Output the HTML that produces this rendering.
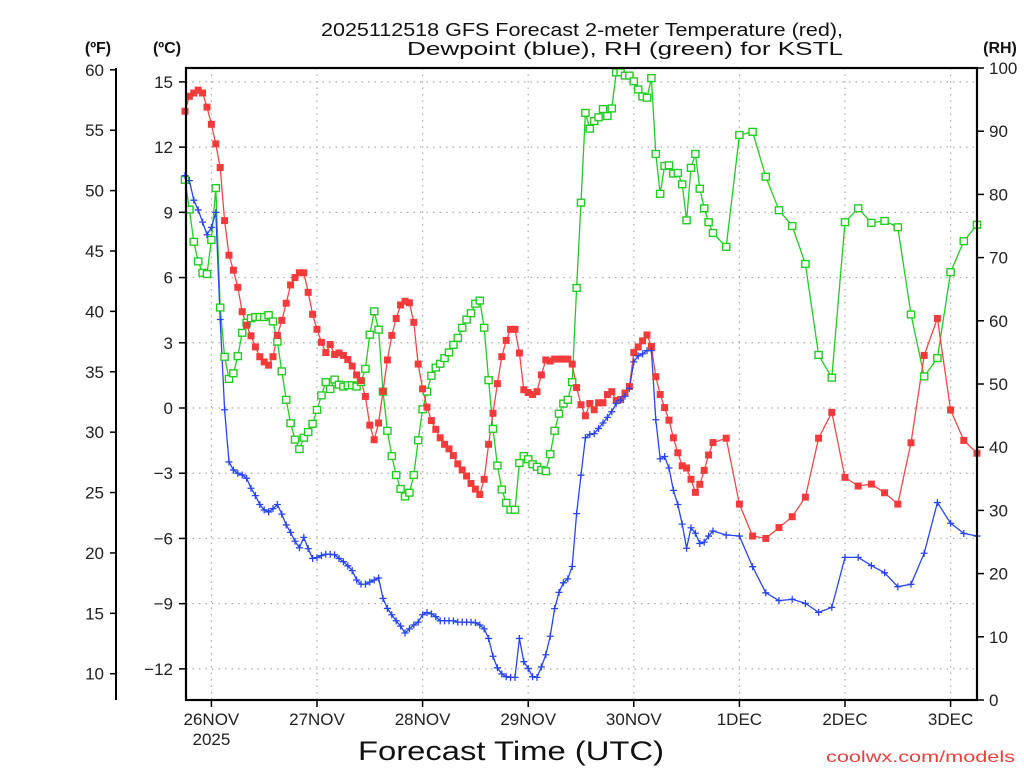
<!DOCTYPE html>
<html><head><meta charset="utf-8"><title>GFS KSTL</title>
<style>
html,body{margin:0;padding:0;background:#fff;}
svg{display:block;font-family:"Liberation Sans",sans-serif;}
</style></head>
<body>
<svg id="chart" width="1024" height="768" viewBox="0 0 1024 768" xmlns="http://www.w3.org/2000/svg">
<rect x="0" y="0" width="1024" height="768" fill="#fff"/>
<text x="582" y="36" text-anchor="middle" font-size="18" fill="#111" textLength="522" lengthAdjust="spacingAndGlyphs">2025112518 GFS Forecast 2-meter Temperature (red),</text>
<text x="625" y="55" text-anchor="middle" font-size="18" fill="#111" textLength="436" lengthAdjust="spacingAndGlyphs">Dewpoint (blue), RH (green) for KSTL</text>
<text x="98" y="53" text-anchor="middle" font-size="16" font-weight="bold" fill="#111">(ºF)</text>
<text x="167" y="53" text-anchor="middle" font-size="16" font-weight="bold" fill="#111">(ºC)</text>
<text x="1000" y="53" text-anchor="middle" font-size="16" font-weight="bold" fill="#111">(RH)</text>
<g id="grid"></g>
<g id="axes"></g>
<g id="series"></g>
<rect x="186" y="68" width="791" height="632" fill="none" stroke="#000" stroke-width="2.2"/>
<text x="511" y="760" text-anchor="middle" font-size="27" fill="#111" textLength="306" lengthAdjust="spacingAndGlyphs">Forecast Time (UTC)</text>
<text x="1015" y="762" text-anchor="end" font-size="16" fill="#e8403a" textLength="189" lengthAdjust="spacingAndGlyphs">coolwx.com/models</text>
</svg>
<script>
const forecastHours = [0,1,2,3,4,5,6,7,8,9,10,11,12,13,14,15,16,17,18,19,20,21,22,23,24,25,26,27,28,29,30,31,32,33,34,35,36,37,38,39,40,41,42,43,44,45,46,47,48,49,50,51,52,53,54,55,56,57,58,59,60,61,62,63,64,65,66,67,68,69,70,71,72,73,74,75,76,77,78,79,80,81,82,83,84,85,86,87,88,89,90,91,92,93,94,95,96,97,98,99,100,101,102,103,104,105,106,107,108,109,110,111,112,113,114,115,116,117,118,119,120,123,126,129,132,135,138,141,144,147,150,153,156,159,162,165,168,171,174,177,180];
const tempC = [13.65,14.34,14.49,14.62,14.49,13.84,13.05,12.15,11.06,8.62,7.03,6.34,5.55,4.43,3.81,3.32,2.81,2.36,2.12,1.97,2.36,3.34,4.03,4.82,5.66,6.0,6.22,6.22,5.32,4.31,3.62,3.02,2.55,2.92,2.46,2.53,2.42,2.23,1.93,1.52,1.26,0.53,-0.79,-1.46,-0.69,0.77,2.21,3.34,4.12,4.74,4.91,4.84,3.94,2.02,0.88,0.04,-0.58,-0.98,-1.37,-1.67,-1.88,-2.19,-2.57,
-2.85,-3.13,-3.47,-3.73,-3.98,-3.28,-1.67,-0.24,1.12,2.36,3.11,3.62,3.62,2.53,0.84,0.71,0.62,0.75,1.52,2.21,2.16,2.25,2.25,2.25,2.25,2.02,0.94,0.15,-0.36,0.21,-0.08,0.24,0.24,0.62,0.75,0.34,0.39,0.69,0.99,2.55,2.81,3.09,3.36,2.83,1.44,0.62,0.02,-0.56,-1.37,-2.06,-2.66,-2.76,-3.28,-3.88,-3.51,-2.87,-2.16,-1.59,
-1.39,-4.42,-5.89,-6.0,-5.5,-5.0,-4.1,-1.39,-0.2,-3.19,-3.59,-3.5,-3.9,-4.42,-1.6,2.42,4.12,-0.09,-1.49,-2.08];
const dewpointC = [10.69,10.46,9.56,9.11,8.55,7.97,8.31,9.0,4.07,-0.08,-2.48,-2.85,-3.0,-3.08,-3.23,-3.69,-4.03,-4.44,-4.69,-4.78,-4.63,-4.44,-4.88,-5.38,-5.72,-6.13,-6.43,-5.95,-6.47,-6.92,-6.88,-6.79,-6.73,-6.73,-6.75,-6.92,-7.07,-7.26,-7.48,-7.91,-8.1,-8.1,-8.01,-7.91,-7.82,-8.76,-9.22,-9.51,-9.79,-10.03,-10.35,-10.16,-9.98,-9.85,-9.51,-9.41,-9.47,-9.6,-9.79,-9.79,-9.79,-9.79,-9.85,
-9.85,-9.85,-9.85,-9.88,-9.98,-10.16,-10.6,-11.42,-11.95,-12.23,-12.36,-12.39,-12.39,-10.6,-11.67,-11.98,-12.36,-12.39,-11.91,-11.35,-10.5,-9.23,-8.48,-8.04,-7.86,-7.29,-4.86,-3.09,-1.37,-1.22,-1.18,-0.94,-0.69,-0.43,-0.17,0.21,0.36,0.54,0.9,2.12,2.4,2.49,2.64,2.64,-0.54,-2.34,-2.23,-2.76,-3.79,-4.44,-5.34,-6.45,-5.51,-5.76,-6.23,-6.17,-5.89,-5.66,
-5.84,-5.89,-7.3,-8.5,-8.86,-8.8,-8.99,-9.4,-9.17,-6.87,-6.87,-7.25,-7.58,-8.22,-8.11,-6.68,-4.35,-5.3,-5.77,-5.89];
const relHumidity = [82.3,77.6,72.5,69.4,67.6,67.4,72.8,81.0,62.1,54.3,50.8,51.7,54.4,58.1,59.7,60.4,60.6,60.6,60.6,60.9,59.9,56.7,52.0,47.5,43.8,41.2,39.7,41.5,42.4,43.7,45.9,48.2,50.3,49.2,50.7,49.9,49.6,49.8,49.8,49.6,50.3,52.4,57.8,61.5,58.6,48.8,42.6,38.6,35.6,33.4,32.2,32.8,35.6,41.1,46.0,48.8,51.3,52.6,53.2,54.1,55.0,56.2,57.3,
58.9,60.2,61.2,62.7,63.2,58.9,50.6,42.9,37.1,33.3,31.2,30.1,30.1,37.5,38.6,38.1,37.3,36.9,36.4,36.2,38.9,42.6,45.3,46.9,47.5,50.3,65.2,78.7,92.9,90.4,91.6,92.2,93.5,92.4,93.6,99.3,99.3,98.8,98.8,97.9,96.6,95.5,95.3,98.4,86.4,80.1,84.5,84.6,83.3,83.4,81.6,75.9,84.2,86.4,80.9,77.8,75.6,73.9,
71.7,89.4,89.9,82.8,77.5,75.0,69.0,54.6,51.0,75.6,77.8,75.5,75.8,74.8,61.0,51.2,54.1,67.7,72.6,75.2];
const celsiusTicks = [15,12,9,6,3,0,-3,-6,-9,-12];
const fahrenheitTicks = [60,55,50,45,40,35,30,25,20,15,10];
const rhTicks = [100,90,80,70,60,50,40,30,20,10,0];
const dayLabels = ["26NOV","27NOV","28NOV","29NOV","30NOV","1DEC","2DEC","3DEC"];
const dayHours = [6,30,54,78,102,126,150,174];

const NS = "http://www.w3.org/2000/svg";
const X0 = 185, PXH = 4.4;
function xs(h){ return X0 + h*PXH; }
function yc(t){ return 408 - t*21.74; }
function yf(f){ return yc((f-32)*5/9); }
function yr(r){ return 700 - r*6.32; }
function mk(tag, attrs, parent){
  const e = document.createElementNS(NS, tag);
  for (const k in attrs) e.setAttribute(k, attrs[k]);
  parent.appendChild(e); return e;
}
const grid = document.getElementById('grid');
const axes = document.getElementById('axes');
const series = document.getElementById('series');

celsiusTicks.forEach(t => {
  const y = yc(t);
  const g = mk('line', {x1:186, x2:977, y1:y, y2:y, stroke:'#aaa', 'stroke-width':1.2, 'stroke-dasharray':'1.5,5'}, grid);
  
  
  const tk = mk('line', {x1:179, x2:186, y1:y, y2:y, stroke:'#000', 'stroke-width':1.5}, axes);
  
  
  const lb = mk('text', {x:173, y:y+6, 'text-anchor':'end', 'font-size':17, fill:'#222'}, axes);
  lb.textContent = t < 0 ? '\u2212' + Math.abs(t) : String(t);
  
  
});
dayHours.forEach((h, i) => {
  const x = xs(h);
  const g = mk('line', {x1:x, x2:x, y1:68, y2:700, stroke:'#aaa', 'stroke-width':1.2, 'stroke-dasharray':'1.5,5'}, grid);
  
  
  const tk = mk('line', {x1:x, x2:x, y1:700, y2:707, stroke:'#000', 'stroke-width':1.5}, axes);
  
  
  const lb = mk('text', {x:x, y:725, 'text-anchor':'middle', 'font-size':17, fill:'#222'}, axes);
  lb.textContent = dayLabels[i];
  
  
});
const yr1 = mk('text', {x:xs(dayHours[0]), y:745, 'text-anchor':'middle', 'font-size':17, fill:'#222'}, axes);
yr1.textContent = '2025';



const fl = mk('line', {x1:116, x2:116, y1:68, y2:700, stroke:'#000', 'stroke-width':2}, axes);


fahrenheitTicks.forEach(f => {
  const y = yf(f);
  const tk = mk('line', {x1:110, x2:116, y1:y, y2:y, stroke:'#000', 'stroke-width':1.5}, axes);
  
  
  const lb = mk('text', {x:104, y:y+6, 'text-anchor':'end', 'font-size':17, fill:'#222'}, axes);
  lb.textContent = String(f);
  
  
});
rhTicks.forEach(r => {
  const y = yr(r);
  const tk = mk('line', {x1:977, x2:984, y1:y, y2:y, stroke:'#000', 'stroke-width':1.5}, axes);
  
  
  const lb = mk('text', {x:989, y:y+6, 'text-anchor':'start', 'font-size':17, fill:'#222'}, axes);
  lb.textContent = String(r);
  
  
});

function drawLine(vals, yfn, color, name){
  const pts = vals.map((v, i) => xs(forecastHours[i]).toFixed(1) + ',' + yfn(v).toFixed(1)).join(' ');
  const pl = mk('polyline', {points:pts, fill:'none', stroke:color, 'stroke-width':1.3}, series);
  
  
}
drawLine(relHumidity, yr, '#22cc22', 'rh-line');
drawLine(tempC, yc, '#f04848', 'temperature-line');
drawLine(dewpointC, yc, '#2846f0', 'dewpoint-line');

relHumidity.forEach((v, i) => {
  const x = xs(forecastHours[i]), y = yr(v);
  const m = mk('rect', {x:x-3.6, y:y-3.4, width:7.2, height:6.8, fill:'#fff', stroke:'#22cc22', 'stroke-width':1.4}, series);
  
  
});
tempC.forEach((v, i) => {
  const x = xs(forecastHours[i]), y = yc(v);
  const m = mk('rect', {x:x-3.5, y:y-3.5, width:7, height:7, fill:'#f43b3b'}, series);
  
  
});
dewpointC.forEach((v, i) => {
  const x = xs(forecastHours[i]), y = yc(v);
  const m = mk('path', {d:'M'+(x-3.5)+','+y+'H'+(x+3.5)+'M'+x+','+(y-3.5)+'V'+(y+3.5), stroke:'#2846f0', 'stroke-width':1.3, fill:'none'}, series);
  
  
});
</script>
</body></html>
